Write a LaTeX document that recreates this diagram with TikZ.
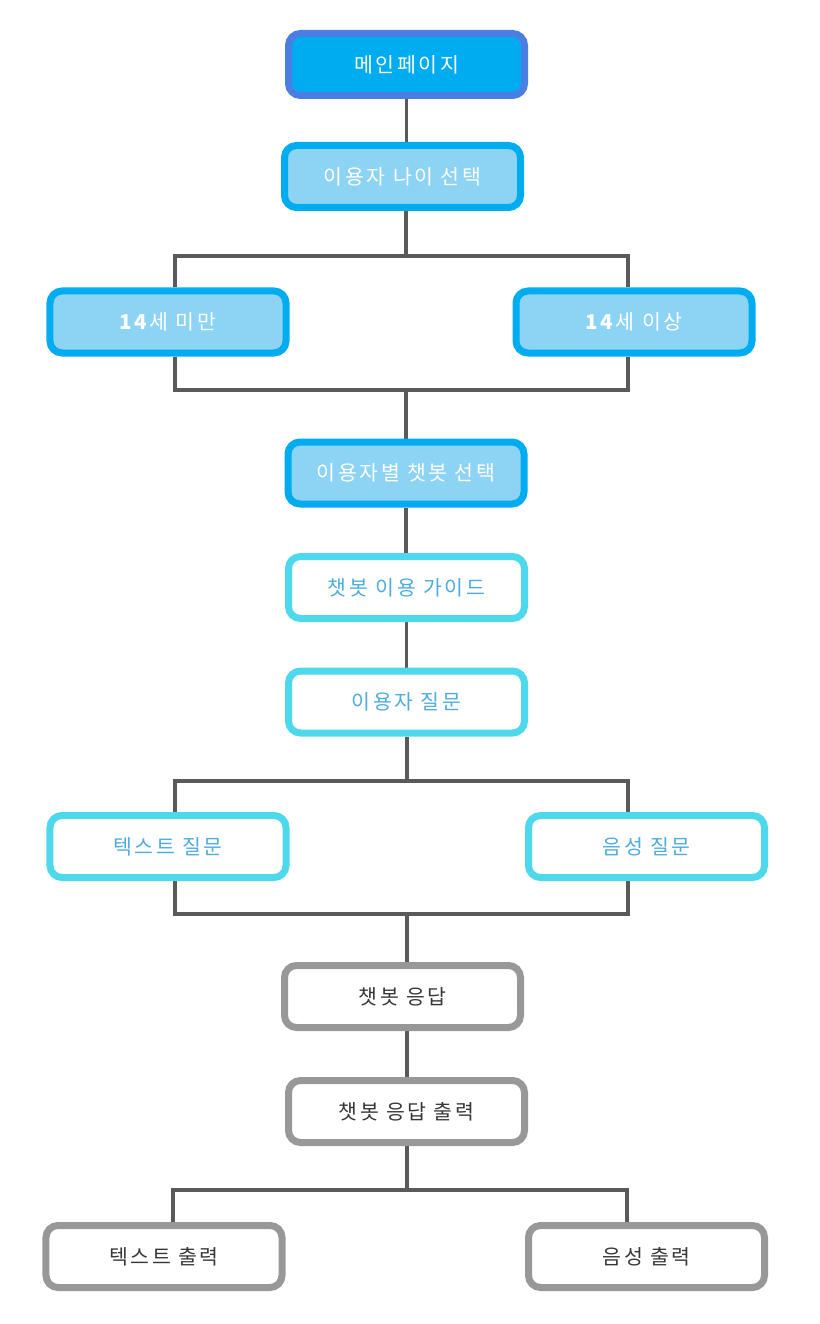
\documentclass[tikz,border=0pt]{standalone}
\usepackage{fontspec}
\setmainfont{Noto Sans CJK KR}[LetterSpace=13]
\usetikzlibrary{backgrounds}
\definecolor{topfill}{RGB}{0,172,240}
\definecolor{topedge}{RGB}{74,126,226}
\definecolor{skyedge}{RGB}{0,172,240}
\definecolor{skyfill}{RGB}{141,211,243}
\definecolor{cyanedge}{RGB}{77,216,236}
\definecolor{cyantext}{RGB}{78,172,224}
\definecolor{greyedge}{RGB}{152,152,152}
\definecolor{greytext}{RGB}{55,55,55}
\definecolor{wire}{RGB}{90,90,90}
\tikzset{
  box/.style={rounded corners=12bp, line width=7bp, minimum width=236bp,
    minimum height=62bp, inner sep=0pt, font=\fontsize{20.5bp}{23bp}\selectfont},
  topbox/.style={box, draw=topedge, fill=topfill, text=white},
  skybox/.style={box, draw=skyedge, fill=skyfill, text=white},
  cyanbox/.style={box, draw=cyanedge, fill=white, text=cyantext},
  greybox/.style={box, draw=greyedge, fill=white, text=greytext},
  wireline/.style={draw=wire, line width=3.2bp}
}
\begin{document}
\begin{tikzpicture}[x=1bp, y=-1bp]
\useasboundingbox (0,0) rectangle (819,1324);

% boxes
\node[topbox]  (main)   at (406.5,64.5)  {메인페이지};
\node[skybox]  (age)    at (402.5,176.5) {이용자 나이 선택};
\node[skybox]  (young)  at (168,322)     {\textbf{14}세 미만};
\node[skybox]  (adult)  at (634,322)     {\textbf{14}세 이상};
\node[skybox]  (pick)   at (406,473)     {이용자별 챗봇 선택};
\node[cyanbox] (guide)  at (406.5,587.5) {챗봇 이용 가이드};
\node[cyanbox] (ask)    at (406.5,702)   {이용자 질문};
\node[cyanbox] (textq)  at (168,846.5)   {텍스트 질문};
\node[cyanbox] (voiceq) at (646.5,846.5) {음성 질문};
\node[greybox] (reply)  at (402.5,996.5) {챗봇 응답};
\node[greybox] (show)   at (406.5,1111.5){챗봇 응답 출력};
\node[greybox] (textout)  at (164,1256.5)  {텍스트 출력};
\node[greybox] (voiceout) at (646.5,1256.5){음성 출력};

% junction points of the branching connectors
\coordinate (s1) at (406,256);  \coordinate (s1l) at (175,256);  \coordinate (s1r) at (628,256);
\coordinate (m1) at (406,390);  \coordinate (m1l) at (175,390);  \coordinate (m1r) at (628,390);
\coordinate (s2) at (407,781);  \coordinate (s2l) at (175,781);  \coordinate (s2r) at (628,781);
\coordinate (m2) at (407,914);  \coordinate (m2l) at (175,914);  \coordinate (m2r) at (628,914);
\coordinate (s3) at (407,1190); \coordinate (s3l) at (173,1190); \coordinate (s3r) at (627,1190);

\begin{scope}[on background layer]
  \draw[wireline] (main.south) -- (main.south |- age.north);
  \draw[wireline] (s1 |- age.south) -- (s1);
  \draw[wireline] (s1l |- young.north) -- (s1l) -- (s1r) -- (s1r |- adult.north);
  \draw[wireline] (m1l |- young.south) -- (m1l) -- (m1r) -- (m1r |- adult.south);
  \draw[wireline] (m1) -- (m1 |- pick.north);
  \draw[wireline] (pick.south) -- (pick.south |- guide.north);
  \draw[wireline] (guide.south) -- (guide.south |- ask.north);
  \draw[wireline] (s2 |- ask.south) -- (s2);
  \draw[wireline] (s2l |- textq.north) -- (s2l) -- (s2r) -- (s2r |- voiceq.north);
  \draw[wireline] (m2l |- textq.south) -- (m2l) -- (m2r) -- (m2r |- voiceq.south);
  \draw[wireline] (m2) -- (m2 |- reply.north);
  \draw[wireline] (m2 |- reply.south) -- (m2 |- show.north);
  \draw[wireline] (s3 |- show.south) -- (s3);
  \draw[wireline] (s3l |- textout.north) -- (s3l) -- (s3r) -- (s3r |- voiceout.north);
\end{scope}
\end{tikzpicture}
\end{document}
